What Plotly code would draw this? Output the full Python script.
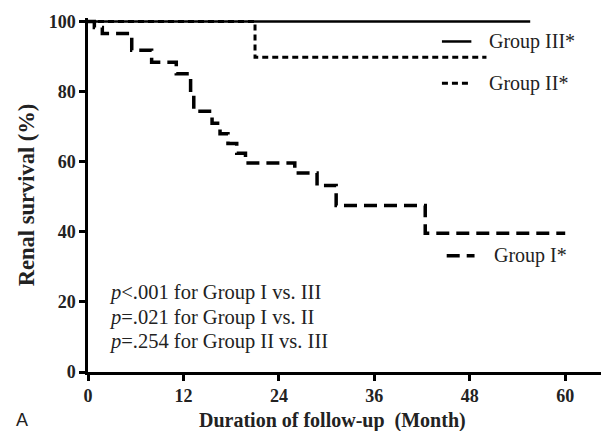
import plotly.graph_objects as go

# Group I (Kaplan-Meier steps)
g1_time = [0, 0.8, 1.8, 5.5, 8.0, 11.1, 12.9, 13.3, 15.6, 16.6, 17.6, 18.7, 19.8, 26.0, 28.8, 31.2, 42.4, 60.0]
g1_surv = [100, 98.3, 96.6, 91.8, 88.4, 85.1, 79.0, 74.4, 71.0, 68.0, 65.2, 62.4, 59.6, 56.8, 53.2, 47.5, 39.6, 39.6]

# Group II
g2_time = [0, 21.0, 50.1]
g2_surv = [100, 89.8, 89.8]

# Group III
g3_time = [0, 55.6]
g3_surv = [100, 100]

x_ticks = [0, 12, 24, 36, 48, 60]
y_ticks = [0, 20, 40, 60, 80, 100]

p_texts = ["<i>p</i>&lt;.001 for Group I vs. III",
           "<i>p</i>=.021 for Group I vs. II",
           "<i>p</i>=.254 for Group II vs. III"]

serif = "Liberation Serif"

fig = go.Figure()
fig.add_trace(go.Scatter(x=g2_time, y=g2_surv, mode="lines", line_shape="hv",
                         line=dict(color="black", width=3, dash="6px,4px"), name="Group II*"))
fig.add_trace(go.Scatter(x=g3_time, y=g3_surv, mode="lines", line_shape="hv",
                         line=dict(color="black", width=2.5), name="Group III*"))
fig.add_trace(go.Scatter(x=g1_time, y=g1_surv, mode="lines", line_shape="hv",
                         line=dict(color="black", width=3.5, dash="13px,7px"), name="Group I*"))

# legend-like labels
leg = [("Group III*", 94.3, 44.5, 48.2, "solid", 2.5, 50.2),
       ("Group II*", 82.4, 44.5, 48.2, "6px,4px", 3, 50.2),
       ("Group I*", 33.2, 45.1, 48.6, "13px,7px", 3.5, 50.8)]
for name, yv, x0, x1, dash, w, tx in leg:
    fig.add_shape(type="line", x0=x0, x1=x1, y0=yv, y1=yv, xref="x", yref="y",
                  line=dict(color="black", width=w, dash=dash))
    fig.add_annotation(x=tx, y=yv, xref="x", yref="y", text=name, showarrow=False,
                       xanchor="left", yanchor="middle",
                       font=dict(family=serif, size=20, color="#222"))

for txt, yv in zip(p_texts, [22.6, 15.6, 8.7]):
    fig.add_annotation(x=2.4, y=yv, xref="x", yref="y", text=txt, showarrow=False,
                       xanchor="left", yanchor="middle",
                       font=dict(family=serif, size=20.5, color="#222"))

fig.add_annotation(x=-0.145, y=-0.136, xref="paper", yref="paper", text="A", showarrow=False,
                   xanchor="left", yanchor="middle",
                   font=dict(family="Liberation Sans", size=18, color="#222"))

# x-axis title placed as paper annotation
fig.add_annotation(x=0.476, y=-0.136, xref="paper", yref="paper",
                   text="Duration of follow-up  (Month)", showarrow=False,
                   xanchor="center", yanchor="middle",
                   font=dict(family=serif, size=20, color="#222", weight="bold"))

fig.update_layout(
    width=601, height=431,
    margin=dict(l=88, r=0, t=18, b=59, autoexpand=False),
    paper_bgcolor="white", plot_bgcolor="white",
    showlegend=False,
    xaxis=dict(range=[0, 64.5], tickvals=x_ticks, ticks="outside", ticklen=6, tickwidth=2.5,
               tickcolor="black", showline=True, linewidth=2.5, linecolor="black",
               showgrid=False, zeroline=False, automargin=False,
               tickfont=dict(family=serif, size=18, color="#222", weight="bold")),
    yaxis=dict(range=[0, 101], tickvals=y_ticks, ticks="outside", ticklen=6, tickwidth=2.5,
               tickcolor="black", showline=True, linewidth=2.5, linecolor="black",
               showgrid=False, zeroline=False, automargin=False,
               tickfont=dict(family=serif, size=18, color="#222", weight="bold"),
               title=dict(text="Renal survival (%)", standoff=8,
                          font=dict(family=serif, size=22.5, color="#222", weight="bold"))),
)

fig.write_html("out.html", config={"displayModeBar": False},
               post_script="document.body.style.margin='0';")
